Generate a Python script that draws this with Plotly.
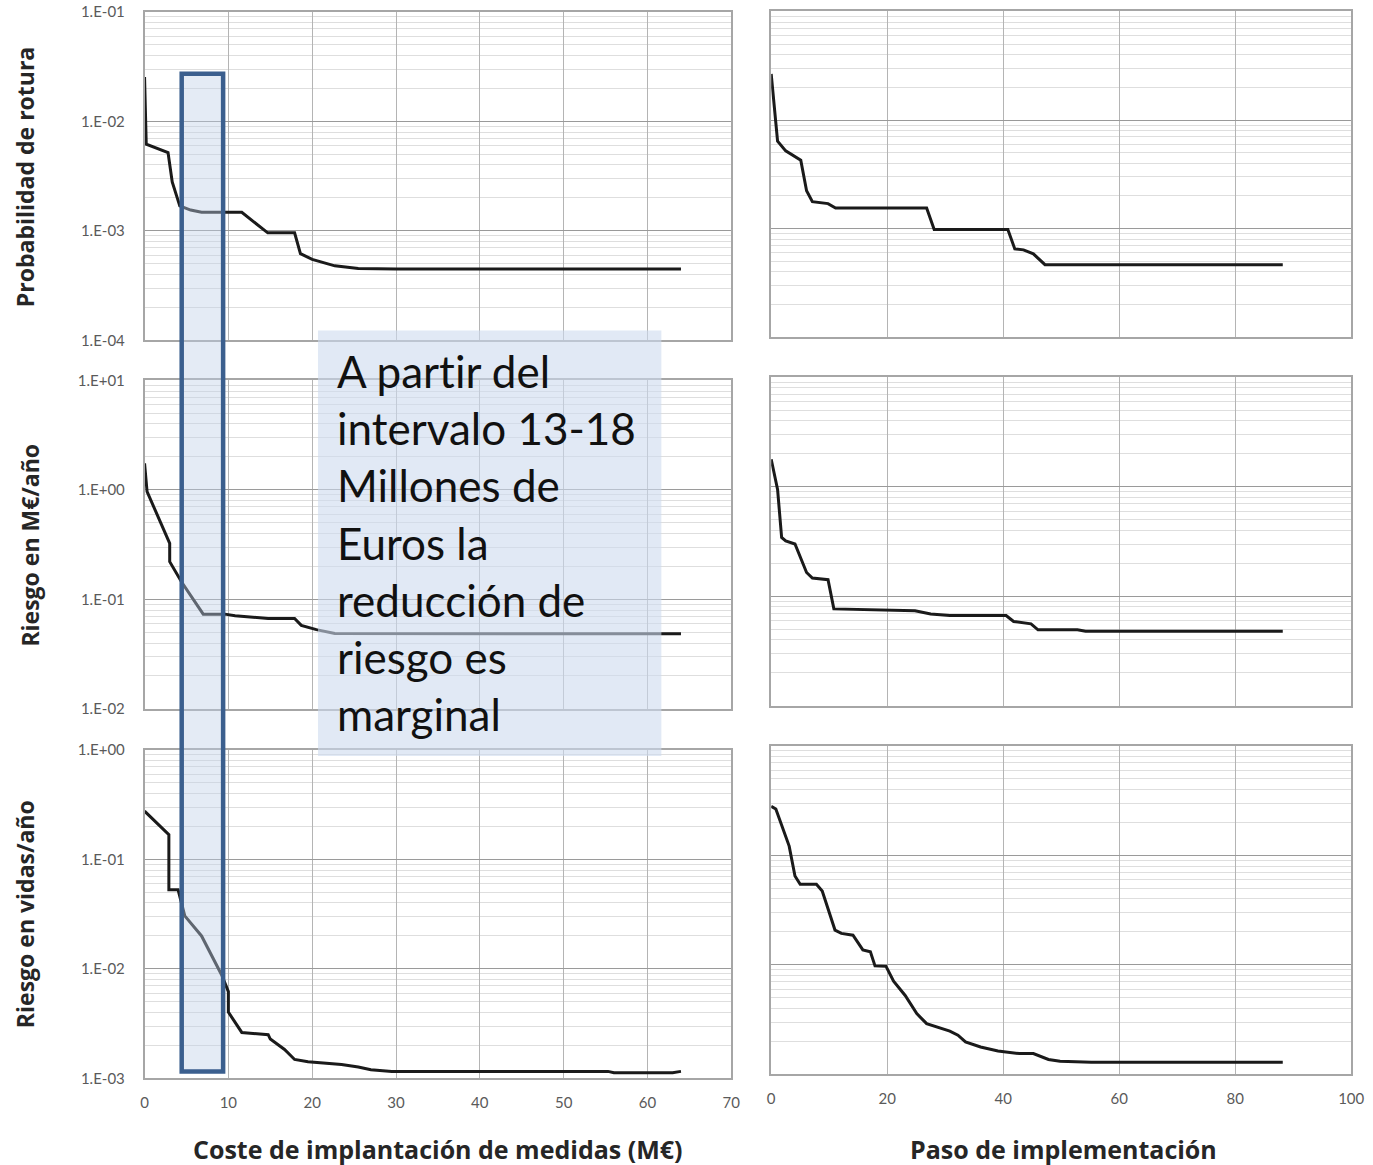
import plotly.graph_objects as go

# --- data (coste en M€ / paso de implementación) ---
coste_prob = [0, 0.2, 2.8, 3.3, 4.2, 5.5, 6.8, 11.6, 14.7, 17.9, 18.6, 20, 22.7, 25.5, 30, 64]
prob_rotura = [0.0254, 0.0062, 0.0052, 0.0028, 0.00169, 0.00155, 0.00148, 0.00148, 0.00096,
               0.00096, 0.00062, 0.00055, 0.00048, 0.000455, 0.000448, 0.000448]

coste_eur = [0, 0.3, 3.0, 3.0, 4.4, 5.2, 7.0, 9.6, 10.8, 14.75, 17.9, 18.7, 20.5, 22.7, 64]
riesgo_eur = [1.75, 0.965, 0.325, 0.221, 0.145, 0.117, 0.0734, 0.0734, 0.0708, 0.067, 0.067,
              0.058, 0.053, 0.0488, 0.0485]

coste_vidas = [0, 2.9, 2.9, 4.0, 4.8, 6.8, 9.2, 10.0, 10.0, 11.6, 14.75, 15.0, 16.7, 17.9,
               19.5, 23.5, 25.5, 27, 29.5, 55.3, 56, 63, 64]
riesgo_vidas = [0.276, 0.168, 0.0527, 0.0527, 0.0305, 0.02, 0.0088, 0.0062, 0.00403, 0.00263,
                0.00251, 0.00229, 0.00184, 0.00149, 0.00142, 0.00134, 0.00127, 0.0012,
                0.00116, 0.00116, 0.00113, 0.00113, 0.00116]

paso_prob = [0, 1.1, 2.5, 3.5, 4.5, 5.1, 6.1, 7.1, 9.8, 11.1, 26.8, 28.1, 40.8, 42.0, 43.5,
             45.2, 47.2, 88.2]
prob_rotura_paso = [0.0266, 0.0064, 0.0052, 0.00484, 0.00447, 0.00427, 0.00223, 0.00177,
                    0.0017, 0.00155, 0.00155, 0.00098, 0.00098, 0.00065, 0.000637, 0.000586,
                    0.000465, 0.000465]

paso_eur = [0, 1.1, 1.8, 2.5, 4.1, 6.1, 7.1, 9.8, 10.8, 18.1, 24.8, 27.5, 30.8, 40.5, 41.8,
            44.8, 46, 52.8, 54.2, 88.2]
riesgo_eur_paso = [1.78, 0.946, 0.344, 0.321, 0.3, 0.165, 0.147, 0.142, 0.0768, 0.0752, 0.074,
                   0.069, 0.0668, 0.0668, 0.0589, 0.0561, 0.0495, 0.0495, 0.048, 0.048]

paso_vidas = [0, 0.8, 3.1, 4.1, 5.0, 7.8, 8.8, 11.0, 12.1, 14.1, 15.8, 17.1, 17.9, 19.8, 21.1,
              23.1, 25.1, 26.8, 30.8, 32.2, 33.5, 36.1, 39.1, 42.8, 45.2, 47.8, 49.8, 55.2, 88.2]
riesgo_vidas_paso = [0.281, 0.265, 0.1216, 0.0649, 0.0544, 0.0544, 0.0473, 0.0208, 0.0194,
                     0.0187, 0.0137, 0.0132, 0.0098, 0.0097, 0.0071, 0.00526, 0.00359, 0.00291,
                     0.00249, 0.00228, 0.00198, 0.00178, 0.00164, 0.00155, 0.00155, 0.00137,
                     0.00132, 0.00129, 0.00129]

y_titles = ["Probabilidad de rotura", "Riesgo en M€/año", "Riesgo en vidas/año"]
x_titles = ["Coste de implantación de medidas (M€)", "Paso de implementación"]
decades = [(-4, -1), (-2, 1), (-3, 0)]

W, H = 1373, 1165

# target pixel -> paper fraction (small correction for how the page ends up on screen)
def px(x):
    return ((x - 2.5) / 0.9893) / W

def py(y):
    return 1 - ((y - 8.1) / 0.9859) / H

fig = go.Figure()

series = [
    (coste_prob, prob_rotura, "x", "y"),
    (paso_prob, prob_rotura_paso, "x2", "y2"),
    (coste_eur, riesgo_eur, "x3", "y3"),
    (paso_eur, riesgo_eur_paso, "x4", "y4"),
    (coste_vidas, riesgo_vidas, "x5", "y5"),
    (paso_vidas, riesgo_vidas_paso, "x6", "y6"),
]
for xs, ys, xa, ya in series:
    fig.add_trace(go.Scatter(x=xs, y=ys, xaxis=xa, yaxis=ya, mode="lines",
                             line=dict(color="#1a1a1a", width=3), showlegend=False))

# pixel boxes of the six panels (left, right columns)
left_x = (143.3, 731)
right_x = (771, 1352)
left_y = [(10, 339), (379, 708), (749, 1078)]
right_y = [(9.6, 335.7), (375.7, 705), (745, 1074)]

grid = "#b4b4b4"
tick_font = dict(family="Lato, Open Sans", size=15, color="#5a5a5a")

layout = dict(
    width=W, height=H,
    margin=dict(l=0, r=0, t=0, b=0),
    paper_bgcolor="white", plot_bgcolor="white",
    showlegend=False,
)

for r in range(3):
    lo, hi = decades[r]
    vals = [10.0 ** k for k in range(lo, hi + 1)]
    txt = ["1.E%+03d" % k for k in range(lo, hi + 1)]
    minor_vals = [m * 10.0 ** k for k in range(lo, hi) for m in range(2, 10)]
    for c in range(2):
        n = r * 2 + c + 1
        sx = "" if n == 1 else str(n)
        xb = left_x if c == 0 else right_x
        yb = left_y[r] if c == 0 else right_y[r]
        layout["xaxis" + sx] = dict(
            domain=[px(xb[0]), px(xb[1])], anchor="y" + sx,
            range=[0, 70] if c == 0 else [0, 100], dtick=10 if c == 0 else 20,
            showgrid=True, gridcolor=grid, gridwidth=1, zeroline=False,
            showline=True, linecolor="#a6a6a6", linewidth=1.5, mirror=True,
            showticklabels=(r == 2), ticks="outside" if r == 2 else "",
            ticklen=10, tickcolor="rgba(0,0,0,0)", tickfont=tick_font,
            ticklabeloverflow="allow",
        )
        layout["yaxis" + sx] = dict(
            domain=[py(yb[1]), py(yb[0])], anchor="x" + sx, type="log",
            range=[lo, hi], tickmode="array", tickvals=vals, ticktext=txt,
            showgrid=True, gridcolor="#9a9a9a", gridwidth=1, zeroline=False,
            showline=True, linecolor="#a6a6a6", linewidth=1.5, mirror=True,
            showticklabels=(c == 0), ticks="outside" if c == 0 else "",
            ticklen=15, tickcolor="rgba(0,0,0,0)", tickfont=tick_font,
            minor=dict(tickmode="array", tickvals=minor_vals, showgrid=True,
                       gridcolor="#dedede", gridwidth=1),
        )

fig.update_layout(**layout)

annotations = []
for (yt, (cx, cy)) in zip(y_titles, [(23, 175), (29, 544), (23, 913)]):
    annotations.append(dict(text="<b>%s</b>" % yt, xref="paper", yref="paper",
                            x=px(cx), y=py(cy), textangle=-90, showarrow=False,
                            font=dict(family="Open Sans", size=23, color="#262626"),
                            xanchor="center", yanchor="middle"))
for (xt, (cx, cy)) in zip(x_titles, [(437, 1149), (1064, 1149)]):
    annotations.append(dict(text="<b>%s</b>" % xt, xref="paper", yref="paper",
                            x=px(cx), y=py(cy), showarrow=False,
                            font=dict(family="Open Sans", size=25, color="#262626"),
                            xanchor="center", yanchor="middle"))

# \u200c keeps Lato from joining "ti" into a ligature
nota = ["A part\u200cir del", "intervalo 13-18", "Millones de", "Euros la",
        "reducción de", "riesgo es", "marginal"]
annotations.append(dict(text="<br>".join(nota), xref="paper", yref="paper",
                        x=px(334), y=py(541), xanchor="left", yanchor="middle",
                        align="left", showarrow=False,
                        font=dict(family="Lato", size=44, color="#111111")))
fig.update_layout(annotations=annotations)

# highlighted interval and the note box
fig.add_shape(type="rect", xref="paper", yref="paper",
              x0=px(180.5), x1=px(222), y0=py(1071), y1=py(72),
              line=dict(color="#3b5f8e", width=4.5),
              fillcolor="rgba(190,208,232,0.42)", layer="above")
fig.add_shape(type="rect", xref="paper", yref="paper",
              x0=px(317), x1=px(661), y0=py(755), y1=py(329),
              line=dict(width=0),
              fillcolor="rgba(205,219,238,0.6)", layer="above")

fig.write_html(
    "out.html",
    config={"displayModeBar": False},
    post_script="document.body.style.margin='0';",
)
